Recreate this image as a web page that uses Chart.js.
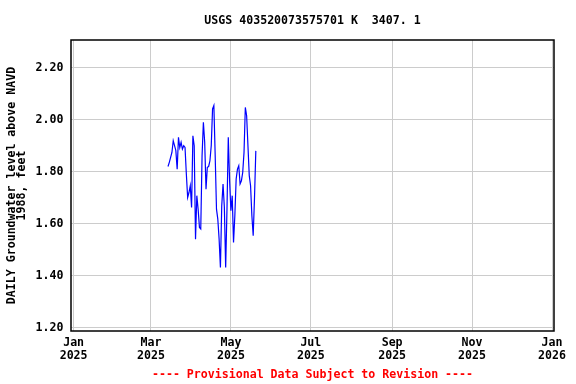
<!DOCTYPE html>
<html>
<head>
<meta charset="utf-8">
<script src="https://cdn.jsdelivr.net/npm/chart.js@4/dist/chart.umd.min.js"></script>
<style>
  html, body { margin: 0; padding: 0; background: #ffffff; }
  #wrap { width: 576px; height: 384px; }
</style>
</head>
<body>
<div id="wrap"><canvas id="c" width="576" height="384"></canvas></div>
<script>
// ---- data ----
const chartTitle = 'USGS 403520073575701 K  3407. 1';
const footerText = '---- Provisional Data Subject to Revision ----';
const yTitleLines = ['DAILY Groundwater level above NAVD', '1988, feet'];

// day of year 2025 (0 = Jan 1, 2025)
const days = [72, 73, 74, 75, 76, 77, 78, 79, 80, 81, 82, 83, 84, 85, 86, 87, 88, 89, 90, 91,
  92, 93, 94, 95, 96, 97, 98, 99, 100, 101, 102, 103, 104, 105, 106, 107, 108, 109, 110, 111,
  112, 113, 114, 115, 116, 117, 118, 119, 120, 121, 122, 123, 124, 125, 126, 127, 128, 129, 130, 131,
  132, 133, 134, 135, 136, 137, 138, 139];
const levels = [1.820, 1.836, 1.855, 1.874, 1.919, 1.900, 1.881, 1.810, 1.932, 1.893,
  1.913, 1.887, 1.900, 1.893, 1.791, 1.701, 1.720, 1.746, 1.663, 1.938,
  1.900, 1.541, 1.708, 1.656, 1.586, 1.580, 1.862, 1.990, 1.913, 1.733,
  1.817, 1.820, 1.842, 1.900, 2.041, 2.054, 1.862, 1.656, 1.618, 1.541,
  1.432, 1.669, 1.753, 1.663, 1.432, 1.656, 1.932, 1.765, 1.650, 1.708,
  1.528, 1.631, 1.772, 1.810, 1.823, 1.753, 1.765, 1.797, 1.874, 2.047,
  2.015, 1.900, 1.785, 1.746, 1.631, 1.554, 1.700, 1.880];

const xTickDays = [0, 59, 120, 181, 243, 304, 365];
const xTickMonths = ['Jan', 'Mar', 'May', 'Jul', 'Sep', 'Nov', 'Jan'];
const xTickYears = ['2025', '2025', '2025', '2025', '2025', '2025', '2026'];
const yTickValues = [1.2, 1.4, 1.6, 1.8, 2.0, 2.2];

// ---- chart ----
const MONO = '"DejaVu Sans Mono", "Liberation Mono", monospace';
const FS = 11.6;

const textPlugin = {
  id: 'textPlugin',
  afterDraw(chart) {
    const ctx = chart.ctx;
    const a = chart.chartArea;
    const cx = (a.left + a.right) / 2;
    ctx.save();
    // frame
    ctx.strokeStyle = '#000000';
    ctx.lineWidth = 1.5;
    ctx.strokeRect(a.left, a.top, a.right - a.left, a.bottom - a.top);
    // title and footer
    ctx.font = 'bold ' + FS + 'px ' + MONO;
    ctx.textAlign = 'center';
    ctx.textBaseline = 'middle';
    ctx.fillStyle = '#000000';
    ctx.fillText(chartTitle, cx, 20.5);
    ctx.fillStyle = '#ff0000';
    ctx.fillText(footerText, cx, 374.5);
    ctx.restore();
  }
};

new Chart(document.getElementById('c'), {
  type: 'line',
  data: {
    datasets: [{
      data: days.map((d, i) => ({ x: d, y: levels[i] })),
      borderColor: '#0000ff',
      borderWidth: 1.2,
      pointRadius: 0,
      tension: 0,
      fill: false
    }]
  },
  options: {
    responsive: false,
    animation: false,
    devicePixelRatio: 1,
    layout: { padding: { top: 40, right: 22, bottom: 20, left: 0 } },
    plugins: {
      legend: { display: false },
      tooltip: { enabled: false },
      title: { display: false }
    },
    scales: {
      x: {
        type: 'linear',
        min: -2,
        max: 366.5,
        afterBuildTicks: (s) => { s.ticks = xTickDays.map(v => ({ value: v })); },
        afterFit: (s) => { s.height = 33; },
        ticks: {
          autoSkip: false,
          maxRotation: 0,
          minRotation: 0,
          padding: 5.8,
          color: '#000000',
          font: { family: MONO, size: FS, weight: 'bold', lineHeight: 1.12 },
          callback: (v) => {
            const i = xTickDays.indexOf(v);
            return i >= 0 ? [xTickMonths[i], xTickYears[i]] : '';
          }
        },
        grid: { color: '#cccccc', lineWidth: 1, drawTicks: false },
        border: { display: false }
      },
      y: {
        type: 'linear',
        min: 1.188,
        max: 2.306,
        afterBuildTicks: (s) => { s.ticks = yTickValues.map(v => ({ value: v })); },
        afterFit: (s) => { s.width = 71; },
        ticks: {
          padding: 7.5,
          color: '#000000',
          font: { family: MONO, size: FS, weight: 'bold' },
          callback: (v) => Number(v).toFixed(2)
        },
        grid: { color: '#cccccc', lineWidth: 1, drawTicks: false },
        border: { display: false },
        title: {
          display: true,
          text: yTitleLines,
          color: '#000000',
          font: { family: MONO, size: FS, weight: 'bold', lineHeight: 0.93 },
          padding: { top: 6.3, bottom: 0 }
        }
      }
    }
  },
  plugins: [textPlugin]
});
</script>
</body>
</html>
